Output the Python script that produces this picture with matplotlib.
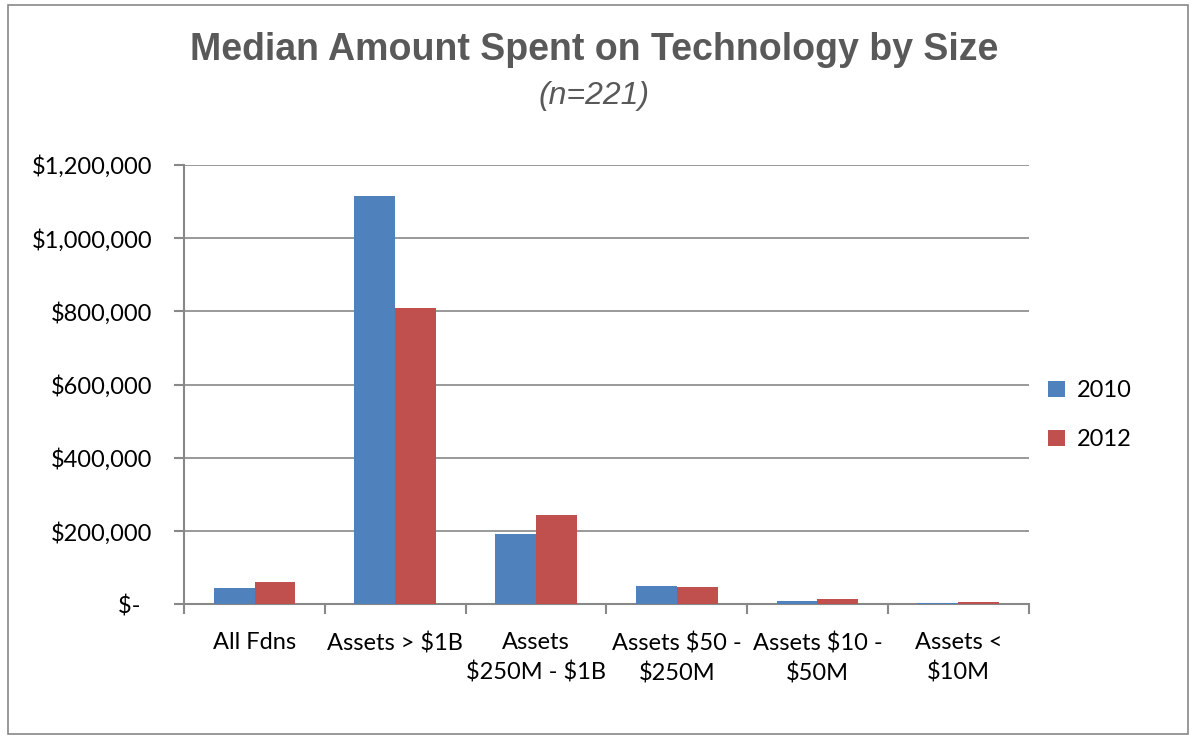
import matplotlib.pyplot as plt
import numpy as np
from matplotlib.patches import Rectangle

plt.rcParams['font.family'] = ['Lato', 'DejaVu Sans']

categories = ['All Fdns', 'Assets > \\$1B', 'Assets\n\\$250M - \\$1B',
              'Assets \\$50 -\n\\$250M', 'Assets \\$10 -\n\\$50M', 'Assets <\n\\$10M']
spend_2010 = [44000, 1115000, 191000, 49000, 10000, 3500]
spend_2012 = [60000, 810000, 243000, 46500, 13500, 5000]
series_labels = ['2010', '2012']
yticks = [0, 200000, 400000, 600000, 800000, 1000000, 1200000]

blue = '#4f81bd'
red = '#c0504d'


def money(v):
    if v == 0:
        return '$-\u00a0\u00a0'
    return '${:,.0f}'.format(v)


fig = plt.figure(figsize=(11.96, 7.36), dpi=100)
ax = fig.add_axes([0.154, 0.179, 0.706, 0.597])

x = np.arange(len(categories))
w = 0.29
ax.bar(x - w / 2, spend_2010, w, color=blue, label=series_labels[0], zorder=3)
ax.bar(x + w / 2, spend_2012, w, color=red, label=series_labels[1], zorder=3)

ax.set_xlim(-0.5, len(categories) - 0.5)
ax.set_ylim(0, 1200000)
ax.set_yticks(yticks)
ax.set_yticklabels([money(v) for v in yticks], fontsize=17)
ax.yaxis.grid(True, color='#888888', linewidth=1.2, zorder=0)

ax.set_xticks(x)
ax.set_xticklabels(categories, fontsize=17, linespacing=1.45)
ax.set_xticks(np.arange(-0.5, len(categories)), minor=True)
ax.tick_params(axis='x', which='major', length=0, pad=20)
ax.tick_params(axis='x', which='minor', length=7, width=1.5, color='#888888')
ax.tick_params(axis='y', length=7, width=1.5, color='#888888', pad=16)

for side in ['top', 'right']:
    ax.spines[side].set_visible(False)
for side in ['left', 'bottom']:
    ax.spines[side].set_color('#888888')
    ax.spines[side].set_linewidth(1.5)

fig.text(0.497, 0.932, 'Median Amount Spent on Technology by Size', ha='center', va='center',
         fontsize=27, fontweight='bold', color='#595959', family='Liberation Sans')
fig.text(0.497, 0.87, '(n=221)', ha='center', va='center', fontsize=23, style='italic',
         color='#595959', family='Liberation Sans')

ax.legend(loc='center left', bbox_to_anchor=(0.998, 0.43), frameon=False, fontsize=17,
          handlelength=0.7, handleheight=0.7, handletextpad=0.5, labelspacing=1.2)

fig.patches.append(Rectangle((0.007, 0.003), 0.986, 0.99, transform=fig.transFigure,
                             fill=False, edgecolor='#888888', linewidth=1.2))

fig.savefig('out.png', dpi=100)
